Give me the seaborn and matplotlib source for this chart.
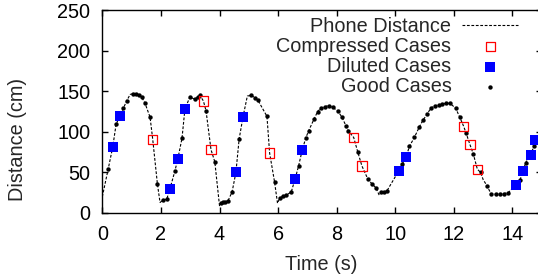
import numpy as np
import pandas as pd
import matplotlib
matplotlib.use("Agg")
import matplotlib.pyplot as plt
import seaborn as sns

# ---- data ----
good_t = [0.20, 0.47, 0.72, 0.83, 1.06, 1.15, 1.26, 1.34, 1.46, 1.63, 1.88, 2.08, 2.20, 2.48,
          2.72, 2.99, 3.16, 3.26, 3.33, 3.54, 3.84, 4.04, 4.12, 4.20, 4.29, 4.43, 4.67, 5.09,
          5.20, 5.31, 5.62, 5.88, 6.05, 6.17, 6.28, 6.45, 6.70, 6.94, 7.04, 7.23, 7.35, 7.46,
          7.61, 7.73, 7.86, 8.03, 8.18, 8.32, 8.40, 8.72, 9.06, 9.20, 9.34, 9.51, 9.62, 9.71,
          10.23, 10.48, 10.65, 10.82, 10.94, 11.09, 11.21, 11.34, 11.49, 11.60, 11.72, 11.87,
          12.06, 12.20, 12.42, 12.66, 12.91, 13.14, 13.26, 13.43, 13.57, 13.71, 13.85, 14.26,
          14.45, 14.73]
good_d = [54, 109, 129, 138, 147, 146, 145, 143, 135, 118, 36, 16, 17, 52,
          92, 143, 140, 143, 145, 126, 63, 12, 13, 14, 15, 26, 91, 145,
          142, 139, 119, 38, 18, 21, 22, 26, 58, 92, 101, 116, 125, 129,
          131, 132, 130, 126, 118, 107, 101, 75, 42, 36, 31, 26, 26, 27,
          60, 82, 93, 106, 114, 122, 129, 132, 133, 134, 135, 135,
          129, 118, 98, 73, 50, 33, 24, 23, 24, 24, 25, 41,
          62, 82]

comp_t = [1.72, 3.45, 3.71, 5.71, 8.58, 8.86, 12.33, 12.55, 12.80]
comp_d = [91, 138, 78, 74, 93, 58, 107, 84, 54]

dil_t = [0.355, 0.60, 2.31, 2.58, 2.82, 4.56, 4.80, 6.58, 6.82, 10.12, 10.37, 14.13, 14.36, 14.62, 14.77]
dil_d = [81, 120, 30, 67, 128, 50, 118, 42, 77, 52, 69, 35, 52, 72, 90]

# extra vertices of the phone-distance curve (peaks / valleys between markers)
line_extra_t = [0.0, 0.95, 1.97, 4.00, 4.95, 5.98, 7.68, 9.45, 11.80, 13.00, 14.90]
line_extra_d = [20, 146, 13, 9, 144, 12, 132, 22, 135, 41, 95]

x_ticks = [0, 2, 4, 6, 8, 10, 12, 14]
y_ticks = [0, 50, 100, 150, 200, 250]

# ---- build tables ----
line_df = pd.DataFrame({
    "t": good_t + comp_t + dil_t + line_extra_t,
    "d": good_d + comp_d + dil_d + line_extra_d,
}).sort_values("t").reset_index(drop=True)
good_df = pd.DataFrame({"t": good_t, "d": good_d})
comp_df = pd.DataFrame({"t": comp_t, "d": comp_d})
dil_df = pd.DataFrame({"t": dil_t, "d": dil_d})

sns.set_theme(style="ticks")
plt.rcParams["font.family"] = ["Liberation Sans", "DejaVu Sans"]
FS = 14.3

fig = plt.figure(figsize=(5.38, 2.79), dpi=100)
ax = fig.add_axes([102.3 / 538, 1 - 213 / 279, (541.8 - 102.3) / 538, 203 / 279])

sns.lineplot(data=line_df, x="t", y="d", ax=ax, color="black", linewidth=0.8,
             linestyle=(0, (2.5, 1.5)), estimator=None, sort=False, label="Phone Distance")
sns.scatterplot(data=good_df, x="t", y="d", ax=ax, color="black", marker="o", s=10,
                linewidth=0, label="Good Cases", zorder=3)
sns.scatterplot(data=dil_df, x="t", y="d", ax=ax, color="#0000ff", marker="s", s=48,
                linewidth=0, label="Diluted Cases", zorder=4)
sns.scatterplot(data=comp_df, x="t", y="d", ax=ax, marker="s", s=44,
                facecolor="none", edgecolor="red", linewidth=0.9,
                label="Compressed Cases", zorder=5)

ax.set_xlim(0, 15)
ax.set_ylim(0, 250)
ax.set_xticks(x_ticks)
ax.set_yticks(y_ticks)
ax.tick_params(direction="in", top=True, right=True, length=4, width=1,
               labelsize=FS, colors="black")
ax.tick_params(axis="x", pad=8.5)
ax.tick_params(axis="y", pad=8.5)
for sp in ax.spines.values():
    sp.set_linewidth(1.0)
    sp.set_color("black")

ax.set_xlabel("Time (s)", fontsize=FS)
ax.set_ylabel("Distance (cm)", fontsize=FS)
ax.xaxis.set_label_coords(0.499, -0.205)
ax.yaxis.set_label_coords(-0.171, 0.36)

h, l = ax.get_legend_handles_labels()
order = ["Phone Distance", "Compressed Cases", "Diluted Cases", "Good Cases"]
hd = dict(zip(l, h))
ax.legend([hd[k] for k in order], order, loc="upper right",
          bbox_to_anchor=(518 / 538, 1 - 17 / 279), bbox_transform=fig.transFigure,
          frameon=False, markerfirst=False, handlelength=2.8, handletextpad=0.55,
          labelspacing=0.05, borderpad=0, borderaxespad=0, fontsize=FS, scatterpoints=1)

fig.savefig("out.png", dpi=100)
